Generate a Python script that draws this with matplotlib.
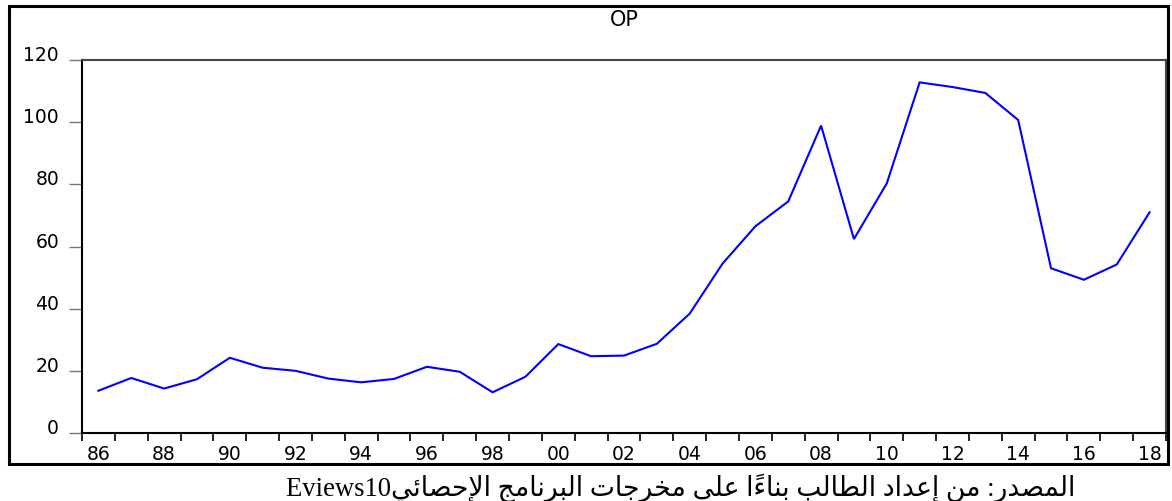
import matplotlib
matplotlib.use('Agg')
import matplotlib.pyplot as plt
from matplotlib.patches import Rectangle
from matplotlib.ticker import FixedLocator, NullFormatter, FixedFormatter

# ---------------- data ----------------
years = list(range(1986, 2019))
op_values = [13.6, 17.7, 14.3, 17.3, 24.2, 21.0, 20.0, 17.5, 16.3, 17.4,
             21.3, 19.7, 13.1, 18.1, 28.6, 24.7, 24.9, 28.7, 38.4, 54.5,
             66.5, 74.5, 98.9, 62.4, 80.3, 112.8, 111.3, 109.4, 100.7, 53.0,
             49.3, 54.2, 71.0]
y_ticks = [0, 20, 40, 60, 80, 100, 120]
label_years = [y for y in years if y % 2 == 0]
x_labels = ["%02d" % (y % 100) for y in label_years]
title = "OP"
caption_ar = "المصدر: من إعداد الطالب بناءاً على مخرجات البرنامج الإحصائي"
caption_lat = "Eviews10"

# ---------------- minimal Arabic shaping (presentation forms) ----------------
# char -> (isolated, final, initial, medial)
FORMS = {
    '\u0621': ('\uFE80', None, None, None),
    '\u0622': ('\uFE81', '\uFE82', None, None),
    '\u0623': ('\uFE83', '\uFE84', None, None),
    '\u0624': ('\uFE85', '\uFE86', None, None),
    '\u0625': ('\uFE87', '\uFE88', None, None),
    '\u0626': ('\uFE89', '\uFE8A', '\uFE8B', '\uFE8C'),
    '\u0627': ('\uFE8D', '\uFE8E', None, None),
    '\u0628': ('\uFE8F', '\uFE90', '\uFE91', '\uFE92'),
    '\u0629': ('\uFE93', '\uFE94', None, None),
    '\u062A': ('\uFE95', '\uFE96', '\uFE97', '\uFE98'),
    '\u062B': ('\uFE99', '\uFE9A', '\uFE9B', '\uFE9C'),
    '\u062C': ('\uFE9D', '\uFE9E', '\uFE9F', '\uFEA0'),
    '\u062D': ('\uFEA1', '\uFEA2', '\uFEA3', '\uFEA4'),
    '\u062E': ('\uFEA5', '\uFEA6', '\uFEA7', '\uFEA8'),
    '\u062F': ('\uFEA9', '\uFEAA', None, None),
    '\u0630': ('\uFEAB', '\uFEAC', None, None),
    '\u0631': ('\uFEAD', '\uFEAE', None, None),
    '\u0632': ('\uFEAF', '\uFEB0', None, None),
    '\u0633': ('\uFEB1', '\uFEB2', '\uFEB3', '\uFEB4'),
    '\u0634': ('\uFEB5', '\uFEB6', '\uFEB7', '\uFEB8'),
    '\u0635': ('\uFEB9', '\uFEBA', '\uFEBB', '\uFEBC'),
    '\u0636': ('\uFEBD', '\uFEBE', '\uFEBF', '\uFEC0'),
    '\u0637': ('\uFEC1', '\uFEC2', '\uFEC3', '\uFEC4'),
    '\u0638': ('\uFEC5', '\uFEC6', '\uFEC7', '\uFEC8'),
    '\u0639': ('\uFEC9', '\uFECA', '\uFECB', '\uFECC'),
    '\u063A': ('\uFECD', '\uFECE', '\uFECF', '\uFED0'),
    '\u0641': ('\uFED1', '\uFED2', '\uFED3', '\uFED4'),
    '\u0642': ('\uFED5', '\uFED6', '\uFED7', '\uFED8'),
    '\u0643': ('\uFED9', '\uFEDA', '\uFEDB', '\uFEDC'),
    '\u0644': ('\uFEDD', '\uFEDE', '\uFEDF', '\uFEE0'),
    '\u0645': ('\uFEE1', '\uFEE2', '\uFEE3', '\uFEE4'),
    '\u0646': ('\uFEE5', '\uFEE6', '\uFEE7', '\uFEE8'),
    '\u0647': ('\uFEE9', '\uFEEA', '\uFEEB', '\uFEEC'),
    '\u0648': ('\uFEED', '\uFEEE', None, None),
    '\u0649': ('\uFEEF', '\uFEF0', None, None),
    '\u064A': ('\uFEF1', '\uFEF2', '\uFEF3', '\uFEF4'),
}
LAM_ALEF = {'\u0622': ('\uFEF5', '\uFEF6'), '\u0623': ('\uFEF7', '\uFEF8'),
            '\u0625': ('\uFEF9', '\uFEFA'), '\u0627': ('\uFEFB', '\uFEFC')}


def is_mark(c):
    return '\u064B' <= c <= '\u0652'


def joins_left(c):   # can connect to the following letter
    return c in FORMS and FORMS[c][2] is not None


def joins_right(c):  # can connect to the preceding letter
    return c in FORMS and FORMS[c][1] is not None


def shape_rtl(text):
    clusters = []
    for ch in text:
        if is_mark(ch) and clusters:
            clusters[-1][1].append(ch)
        else:
            clusters.append([ch, []])
    out = []
    i = 0
    n = len(clusters)
    while i < n:
        base, marks = clusters[i]
        prev = clusters[i - 1][0] if i > 0 else None
        nxt = clusters[i + 1][0] if i + 1 < n else None
        conn_prev = prev is not None and joins_left(prev) and joins_right(base)
        if base == '\u0644' and nxt in LAM_ALEF:
            lig = LAM_ALEF[nxt][1 if conn_prev else 0]
            out.append([lig, marks + clusters[i + 1][1]])
            i += 2
            continue
        if base in FORMS:
            conn_next = nxt is not None and joins_left(base) and joins_right(nxt)
            iso, fin, ini, med = FORMS[base]
            if conn_prev and conn_next:
                g = med
            elif conn_prev:
                g = fin
            elif conn_next:
                g = ini
            else:
                g = iso
            out.append([g, marks])
        else:
            out.append([base, marks])
        i += 1
    return ''.join(b + ''.join(m) for b, m in reversed(out))


# ---------------- figure ----------------
W, H = 1172, 502
fig = plt.figure(figsize=(W / 100, H / 100), dpi=100)
fig.patch.set_facecolor('white')

ax_l, ax_r, ax_t, ax_b = 82, 1166, 61, 434
ax = fig.add_axes([ax_l / W, 1 - ax_b / H, (ax_r - ax_l) / W, (ax_b - ax_t) / H])

x_pos = [y + 0.5 for y in years]
ax.plot(x_pos, op_values, color='#0000FF', lw=1.5, solid_joinstyle='miter')

ax.set_xlim(years[0], years[-1] + 1)
ax.set_ylim(y_ticks[0], y_ticks[-1])

ax.xaxis.set_major_locator(FixedLocator(list(range(years[0], years[-1] + 2))))
ax.xaxis.set_major_formatter(NullFormatter())
ax.xaxis.set_minor_locator(FixedLocator([y + 0.5 for y in label_years]))
ax.xaxis.set_minor_formatter(FixedFormatter(x_labels))
ax.tick_params(axis='x', which='major', direction='out', length=5.5,
               width=1.4, color='#222222')
ax.tick_params(axis='x', which='minor', length=0, pad=8,
               labelsize=13.5, labelcolor='black')

ax.set_yticks(y_ticks)
ax.set_yticklabels([str(v) for v in y_ticks])
ax.tick_params(axis='y', which='major', direction='out', length=9.5,
               width=1.0, color='#777777', pad=7, labelsize=13.5)
for lab in ax.get_yticklabels():
    lab.set_verticalalignment('baseline')

for side in ['left', 'bottom']:
    ax.spines[side].set_color('black')
    ax.spines[side].set_linewidth(1.5)
for side in ['top', 'right']:
    ax.spines[side].set_color('#444444')
    ax.spines[side].set_linewidth(1.5)

for lab in ax.get_xticklabels(minor=True) + ax.get_yticklabels():
    lab.set_family('DejaVu Sans')

fig.add_artist(Rectangle((9.5 / W, 1 - 464.5 / H), (1168 - 9.5) / W, (464.5 - 6.5) / H,
                         transform=fig.transFigure, fill=False,
                         edgecolor='black', lw=2.2))

fig.text(624 / W, 1 - 20 / H, title, ha='center', va='center',
         fontsize=15, family='DejaVu Sans', color='black')

fig.text(1075 / W, 1 - 496 / H, caption_lat + shape_rtl(caption_ar),
         ha='right', va='baseline', fontsize=19.2,
         family=['Liberation Serif', 'DejaVu Sans'], color='black')

fig.savefig('out.png', dpi=100, facecolor='white')
